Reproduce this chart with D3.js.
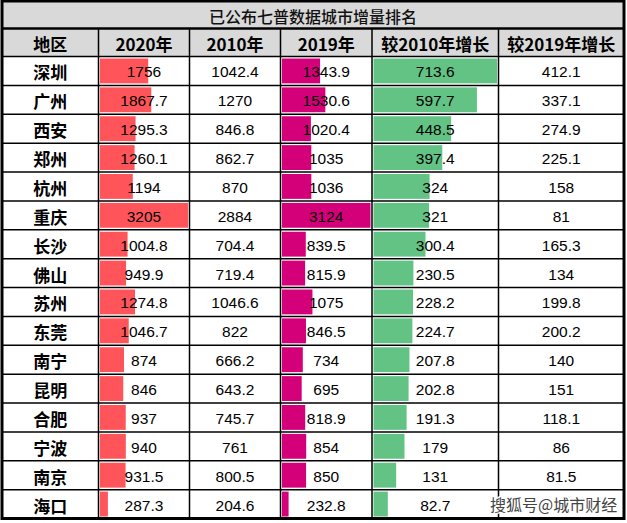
<!DOCTYPE html>
<html>
<head>
<meta charset="utf-8">
<script src="https://cdn.jsdelivr.net/npm/d3@7"></script>
<style>
  html, body { margin: 0; padding: 0; background: #fff; }
  svg { display: block; }
</style>
</head>
<body>
<svg id="chart" width="627" height="523"></svg>
<script>
// table data
const title = '已公布七普数据城市增量排名'
const headers = ['地区', '2020年', '2010年', '2019年', '较2010年增长', '较2019年增长']
const cities = ['深圳','广州','西安','郑州','杭州','重庆','长沙','佛山','苏州','东莞','南宁','昆明','合肥','宁波','南京','海口']
const pop2020 = [1756,1867.7,1295.3,1260.1,1194,3205,1004.8,949.9,1274.8,1046.7,874,846,937,940,931.5,287.3]
const pop2010 = [1042.4,1270,846.8,862.7,870,2884,704.4,719.4,1046.6,822,666.2,643.2,745.7,761,800.5,204.6]
const pop2019 = [1343.9,1530.6,1020.4,1035,1036,3124,839.5,815.9,1075,846.5,734,695,818.9,854,850,232.8]
const inc2010 = [713.6,597.7,448.5,397.4,324,321,300.4,230.5,228.2,224.7,207.8,202.8,191.3,179,131,82.7]
const inc2019 = [412.1,337.1,274.9,225.1,158,81,165.3,134,199.8,200.2,140,151,118.1,86,81.5,null] // last one hidden by watermark

// layout
const colEdges = [2, 98.5, 189.5, 280.5, 372, 498.5, 624]
const titleTop = 1, headTop = 28.5, bodyTop = 56.5, bodyBottom = 518.5

const svg = d3.select('#chart')

const cols = [
  {vals: cities, bar: null},
  {vals: pop2020, bar: '#ff555a'},
  {vals: pop2010, bar: null},
  {vals: pop2019, bar: '#d4007a'},
  {vals: inc2010, bar: '#63c384'},
  {vals: inc2019, bar: null}
]

const y = d3.scaleBand()
  .domain(d3.range(cities.length))
  .range([bodyTop, bodyBottom])

// backgrounds
svg.append('rect')
  .attr('x', colEdges[0]).attr('y', titleTop)
  .attr('width', colEdges[6] - colEdges[0]).attr('height', bodyTop - titleTop)
  .attr('fill', '#d9d9d9')

// data bars
cols.forEach(function(c, ci) {
  if (!c.bar) return
  const x0 = colEdges[ci] + 1.5
  const x1 = colEdges[ci + 1] - 1.5
  const x = d3.scaleLinear().domain([0, d3.max(c.vals)]).range([x0, x1])
  svg.append('g').selectAll('rect')
    .data(c.vals)
    .join('rect')
    .attr('x', x0)
    .attr('y', (d, i) => y(i) + 2)
    .attr('width', d => x(d) - x0)
    .attr('height', y.bandwidth() - 4)
    .attr('fill', c.bar)
})

// title
svg.append('text')
  .attr('x', (colEdges[0] + colEdges[6]) / 2)
  .attr('y', (titleTop + headTop) / 2 + 1)
  .attr('text-anchor', 'middle')
  .attr('dominant-baseline', 'central')
  .attr('font-family', '"Noto Sans CJK SC", sans-serif')
  .attr('font-size', 16)
  .attr('font-weight', 500)
  .attr('fill', '#111')
  .text(title)

// headers
svg.append('g').selectAll('text')
  .data(headers)
  .join('text')
  .attr('x', (d, i) => (colEdges[i] + colEdges[i + 1]) / 2)
  .attr('y', (headTop + bodyTop) / 2 + 1)
  .attr('text-anchor', 'middle')
  .attr('dominant-baseline', 'central')
  .attr('font-family', '"Noto Sans CJK SC", sans-serif')
  .attr('font-size', 17)
  .attr('font-weight', 700)
  .attr('fill', '#000')
  .text(d => d)

// cell text
cols.forEach(function(c, ci) {
  const cx = (colEdges[ci] + colEdges[ci + 1]) / 2
  svg.append('g').selectAll('text')
    .data(c.vals.filter(v => v !== null))
    .join('text')
    .attr('x', cx)
    .attr('y', (d, i) => y(i) + y.bandwidth() / 2 + 1)
    .attr('text-anchor', 'middle')
    .attr('dominant-baseline', 'central')
    .attr('font-family', ci === 0 ? '"Noto Sans CJK SC", sans-serif' : '"Liberation Sans", Arial, sans-serif')
    .attr('font-size', ci === 0 ? 17 : 15.5)
    .attr('font-weight', ci === 0 ? 700 : 400)
    .attr('fill', '#000')
    .text(d => String(d))
})

// grid lines
const grid = svg.append('g').attr('stroke', '#000').attr('fill', 'none')
const hLines = [headTop, bodyTop].concat(d3.range(1, cities.length).map(i => y(i)))
grid.selectAll('line.h')
  .data(hLines)
  .join('line')
  .attr('class', 'h')
  .attr('x1', colEdges[0]).attr('x2', colEdges[6])
  .attr('y1', d => d).attr('y2', d => d)
  .attr('stroke-width', (d, i) => i === 0 ? 2.5 : 1.5)
grid.selectAll('line.v')
  .data(colEdges.slice(1, -1))
  .join('line')
  .attr('class', 'v')
  .attr('x1', d => d).attr('x2', d => d)
  .attr('y1', headTop).attr('y2', bodyBottom)
  .attr('stroke-width', 1.5)
grid.append('rect')
  .attr('x', colEdges[0]).attr('y', titleTop)
  .attr('width', colEdges[6] - colEdges[0]).attr('height', bodyBottom - titleTop)
  .attr('stroke-width', 3)

// watermark
svg.append('text')
  .attr('x', 490).attr('y', 511)
  .attr('font-family', '"Noto Sans CJK SC", sans-serif')
  .attr('font-size', 16)
  .attr('fill', '#444')
  .attr('stroke', '#fff')
  .attr('stroke-width', 2.5)
  .attr('paint-order', 'stroke')
  .text('搜狐号@城市财经')
</script>
</body>
</html>
